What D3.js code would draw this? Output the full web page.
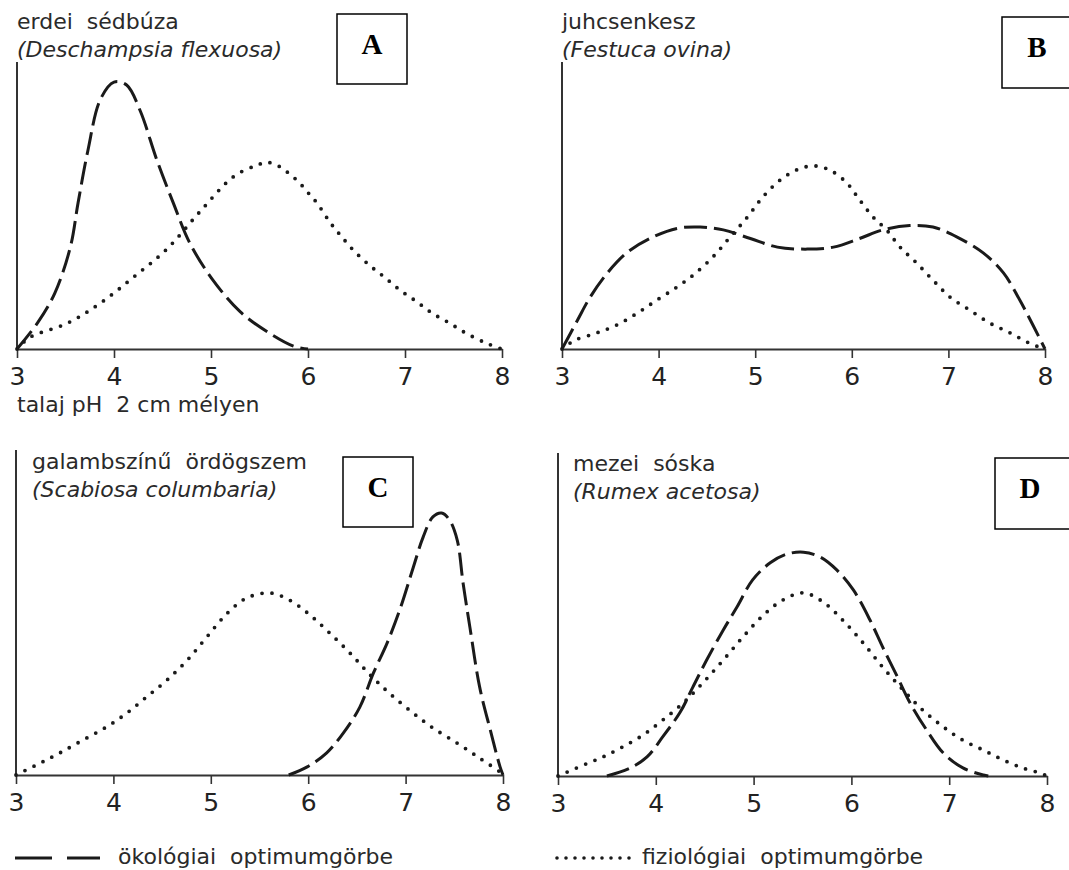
<!DOCTYPE html>
<html>
<head>
<meta charset="utf-8">
<script src="https://cdn.jsdelivr.net/npm/d3@7"></script>
<style>
  body { margin: 0; background: #fff; }
  svg { display: block; }
</style>
</head>
<body>
<div id="chart"></div>
<script>
// pH optimum curves - four species, ecological (dashed) vs physiological (dotted)

const phTicks = [3, 4, 5, 6, 7, 8];

const titles = [
  ["erdei  sédbúza", "(Deschampsia flexuosa)"],
  ["juhcsenkesz", "(Festuca ovina)"],
  ["galambszínű  ördögszem", "(Scabiosa columbaria)"],
  ["mezei  sóska", "(Rumex acetosa)"]
];
const panelLetters = ["A", "B", "C", "D"];
const axisLabel = "talaj pH  2 cm mélyen";
const legendLabels = ["ökológiai  optimumgörbe", "fiziológiai  optimumgörbe"];

// [pH, height relative to the y axis length]
const ecoA = [[3,0],[3.21,0.09],[3.39,0.195],[3.55,0.355],[3.63,0.51],[3.73,0.69],[3.86,0.87],[4.0,0.93],[4.13,0.92],
  [4.27,0.83],[4.44,0.66],[4.61,0.51],[4.78,0.37],[5.02,0.24],[5.3,0.13],[5.58,0.06],[5.85,0.01],[6,0]];
const physA = [[3,0],[3.13,0.04],[3.52,0.09],[3.86,0.16],[4.2,0.25],[4.55,0.35],[4.89,0.48],[5.23,0.6],
  [5.47,0.64],[5.59,0.65],[5.71,0.635],[5.81,0.61],[5.91,0.58],[6.0,0.545],[6.09,0.51],[6.23,0.44],
  [6.35,0.39],[6.48,0.34],[6.64,0.29],[6.79,0.25],[6.95,0.205],[7.12,0.165],[7.28,0.125],[7.46,0.09],
  [7.63,0.055],[7.84,0.02],[8,0]];

const ecoB = [[3,0],[3.16,0.1],[3.29,0.18],[3.47,0.265],[3.67,0.335],[3.91,0.385],[4.19,0.42],[4.43,0.425],
  [4.67,0.415],[4.95,0.385],[5.23,0.355],[5.54,0.348],[5.81,0.355],[6.08,0.385],[6.32,0.415],[6.6,0.43],
  [6.84,0.425],[7.09,0.39],[7.36,0.335],[7.57,0.265],[7.74,0.17],[7.88,0.08],[8,0]];
const physB = [[3,0],[3.13,0.03],[3.36,0.056],[3.57,0.084],[3.78,0.125],[3.98,0.17],[4.19,0.216],[4.36,0.258],
  [4.56,0.32],[4.74,0.39],[4.92,0.46],[5.08,0.53],[5.26,0.589],[5.43,0.624],[5.6,0.638],[5.77,0.624],
  [5.95,0.578],[6.08,0.52],[6.22,0.46],[6.36,0.415],[6.5,0.355],[6.67,0.3],[6.84,0.24],[7.02,0.18],
  [7.22,0.136],[7.43,0.09],[7.64,0.056],[7.84,0.02],[8,0]];

const ecoC = [[5.8,0],[5.99,0.025],[6.19,0.068],[6.36,0.129],[6.53,0.209],[6.67,0.314],[6.81,0.406],
  [6.94,0.508],[7.08,0.64],[7.18,0.732],[7.28,0.794],[7.37,0.806],[7.45,0.785],[7.53,0.723],[7.59,0.591],
  [7.66,0.455],[7.76,0.271],[7.87,0.138],[7.97,0.025],[8,0]];
const physC = [[3,0],[3.25,0.037],[3.45,0.068],[3.69,0.108],[3.93,0.148],[4.14,0.191],[4.34,0.24],[4.55,0.292],
  [4.76,0.354],[4.96,0.425],[5.17,0.498],[5.37,0.545],[5.61,0.56],[5.81,0.538],[6.02,0.492],[6.22,0.437],
  [6.43,0.375],[6.63,0.31],[6.84,0.25],[7.08,0.19],[7.28,0.145],[7.53,0.098],[7.76,0.052],[7.97,0.009],[8,0]];

const ecoD = [[3.5,0],[3.74,0.025],[3.91,0.059],[4.07,0.121],[4.25,0.198],[4.38,0.276],[4.52,0.359],
  [4.69,0.452],[4.83,0.523],[4.99,0.607],[5.17,0.66],[5.34,0.687],[5.51,0.693],[5.68,0.678],[5.85,0.638],
  [6.02,0.576],[6.19,0.483],[6.32,0.399],[6.47,0.307],[6.6,0.226],[6.77,0.142],[6.94,0.071],[7.14,0.025],
  [7.35,0.003],[7.4,0]];
const physD = [[3,0],[3.26,0.034],[3.46,0.059],[3.66,0.09],[3.87,0.127],[4.07,0.173],[4.28,0.226],[4.48,0.288],
  [4.69,0.359],[4.89,0.43],[5.1,0.498],[5.3,0.545],[5.51,0.567],[5.71,0.539],[5.91,0.483],[6.12,0.412],
  [6.32,0.337],[6.53,0.266],[6.73,0.204],[6.94,0.152],[7.14,0.111],[7.35,0.08],[7.55,0.05],[7.75,0.025],
  [7.93,0.009],[8,0]];

const ecoSeries = [ecoA, ecoB, ecoC, ecoD];
const physSeries = [physA, physB, physC, physD];

// layout of the 4 panels (pixel frame of each plot)
const layout = [
  { left: 17,  right: 502,  bottom: 349, top: 62,  titleX: 17,  titleY: 29,  box: [337, 14, 70, 70] },
  { left: 562, right: 1045, bottom: 349, top: 62,  titleX: 562, titleY: 29,  box: [1002, 17, 72, 71] },
  { left: 16,  right: 503,  bottom: 775, top: 450, titleX: 32,  titleY: 469, box: [343, 457, 70, 70] },
  { left: 558, right: 1047, bottom: 776, top: 453, titleX: 573, titleY: 471, box: [995, 458, 78, 71] }
];

const width = 1069, height = 870;
const ink = "#1a1a1a";
const font = "'DejaVu Sans', sans-serif";
const textSize = "22px";

const svg = d3.select("#chart").append("svg")
  .attr("width", width)
  .attr("height", height);

layout.forEach((p, i) => {
  const x = d3.scaleLinear().domain([3, 8]).range([p.left, p.right]);
  const y = d3.scaleLinear().domain([0, 1]).range([p.bottom, p.top]);

  const g = svg.append("g");

  // y axis (plain vertical line)
  g.append("line")
    .attr("x1", p.left).attr("x2", p.left)
    .attr("y1", p.top).attr("y2", p.bottom)
    .attr("stroke", "#333").attr("stroke-width", 2);

  // x axis
  const ax = g.append("g")
    .attr("transform", `translate(0,${p.bottom})`)
    .call(d3.axisBottom(x).tickValues(phTicks).tickFormat(d3.format("d"))
      .tickSize(9).tickSizeOuter(0).tickPadding(9));
  ax.select(".domain").attr("stroke", "#333").attr("stroke-width", 2);
  ax.selectAll(".tick line").attr("stroke", "#333").attr("stroke-width", 1.6);
  ax.selectAll(".tick text")
    .attr("fill", "#222")
    .style("font-family", font)
    .style("font-size", "25px");

  const line = d3.line()
    .x(d => x(d[0]))
    .y(d => y(d[1]))
    .curve(d3.curveCatmullRom.alpha(0.5));

  // physiological (dotted)
  g.append("path")
    .attr("d", line(physSeries[i]))
    .attr("fill", "none")
    .attr("stroke", ink)
    .attr("stroke-width", 3.8)
    .attr("stroke-linecap", "round")
    .attr("stroke-dasharray", "0,10");

  // ecological (dashed)
  g.append("path")
    .attr("d", line(ecoSeries[i]))
    .attr("fill", "none")
    .attr("stroke", ink)
    .attr("stroke-width", 3)
    .attr("stroke-dasharray", "23,7");

  // species names
  g.append("text")
    .attr("x", p.titleX).attr("y", p.titleY)
    .attr("fill", "#2a2a2a")
    .style("font-family", font).style("font-size", textSize)
    .style("white-space", "pre")
    .text(titles[i][0]);
  g.append("text")
    .attr("x", p.titleX).attr("y", p.titleY + 28)
    .attr("fill", "#2a2a2a")
    .style("font-family", font).style("font-size", textSize).style("font-style", "italic")
    .text(titles[i][1]);

  // letter box
  const [bx, by, bw, bh] = p.box;
  g.append("rect")
    .attr("x", bx).attr("y", by).attr("width", bw).attr("height", bh)
    .attr("fill", "#fff").attr("stroke", "#000").attr("stroke-width", 1.5);
  g.append("text")
    .attr("x", bx + 35).attr("y", by + 40)
    .attr("text-anchor", "middle")
    .style("font-family", "'Liberation Serif', 'Times New Roman', serif")
    .style("font-size", "29px").style("font-weight", "bold")
    .text(panelLetters[i]);
});

// x axis title under panel A
svg.append("text")
  .attr("x", 17).attr("y", 412)
  .attr("fill", "#2a2a2a")
  .style("font-family", font).style("font-size", textSize)
  .style("white-space", "pre")
  .text(axisLabel);

// legend
const lg = svg.append("g");
lg.append("line")
  .attr("x1", 15).attr("x2", 100).attr("y1", 858).attr("y2", 858)
  .attr("stroke", ink).attr("stroke-width", 3).attr("stroke-dasharray", "37,15");
lg.append("text")
  .attr("x", 118).attr("y", 864)
  .attr("fill", "#2a2a2a")
  .style("font-family", font).style("font-size", textSize).style("white-space", "pre")
  .text(legendLabels[0]);
lg.append("line")
  .attr("x1", 557).attr("x2", 630).attr("y1", 858).attr("y2", 858)
  .attr("stroke", ink).attr("stroke-width", 3.6).attr("stroke-linecap", "round")
  .attr("stroke-dasharray", "0,9");
lg.append("text")
  .attr("x", 642).attr("y", 864)
  .attr("fill", "#2a2a2a")
  .style("font-family", font).style("font-size", textSize).style("white-space", "pre")
  .text(legendLabels[1]);
</script>
</body>
</html>
